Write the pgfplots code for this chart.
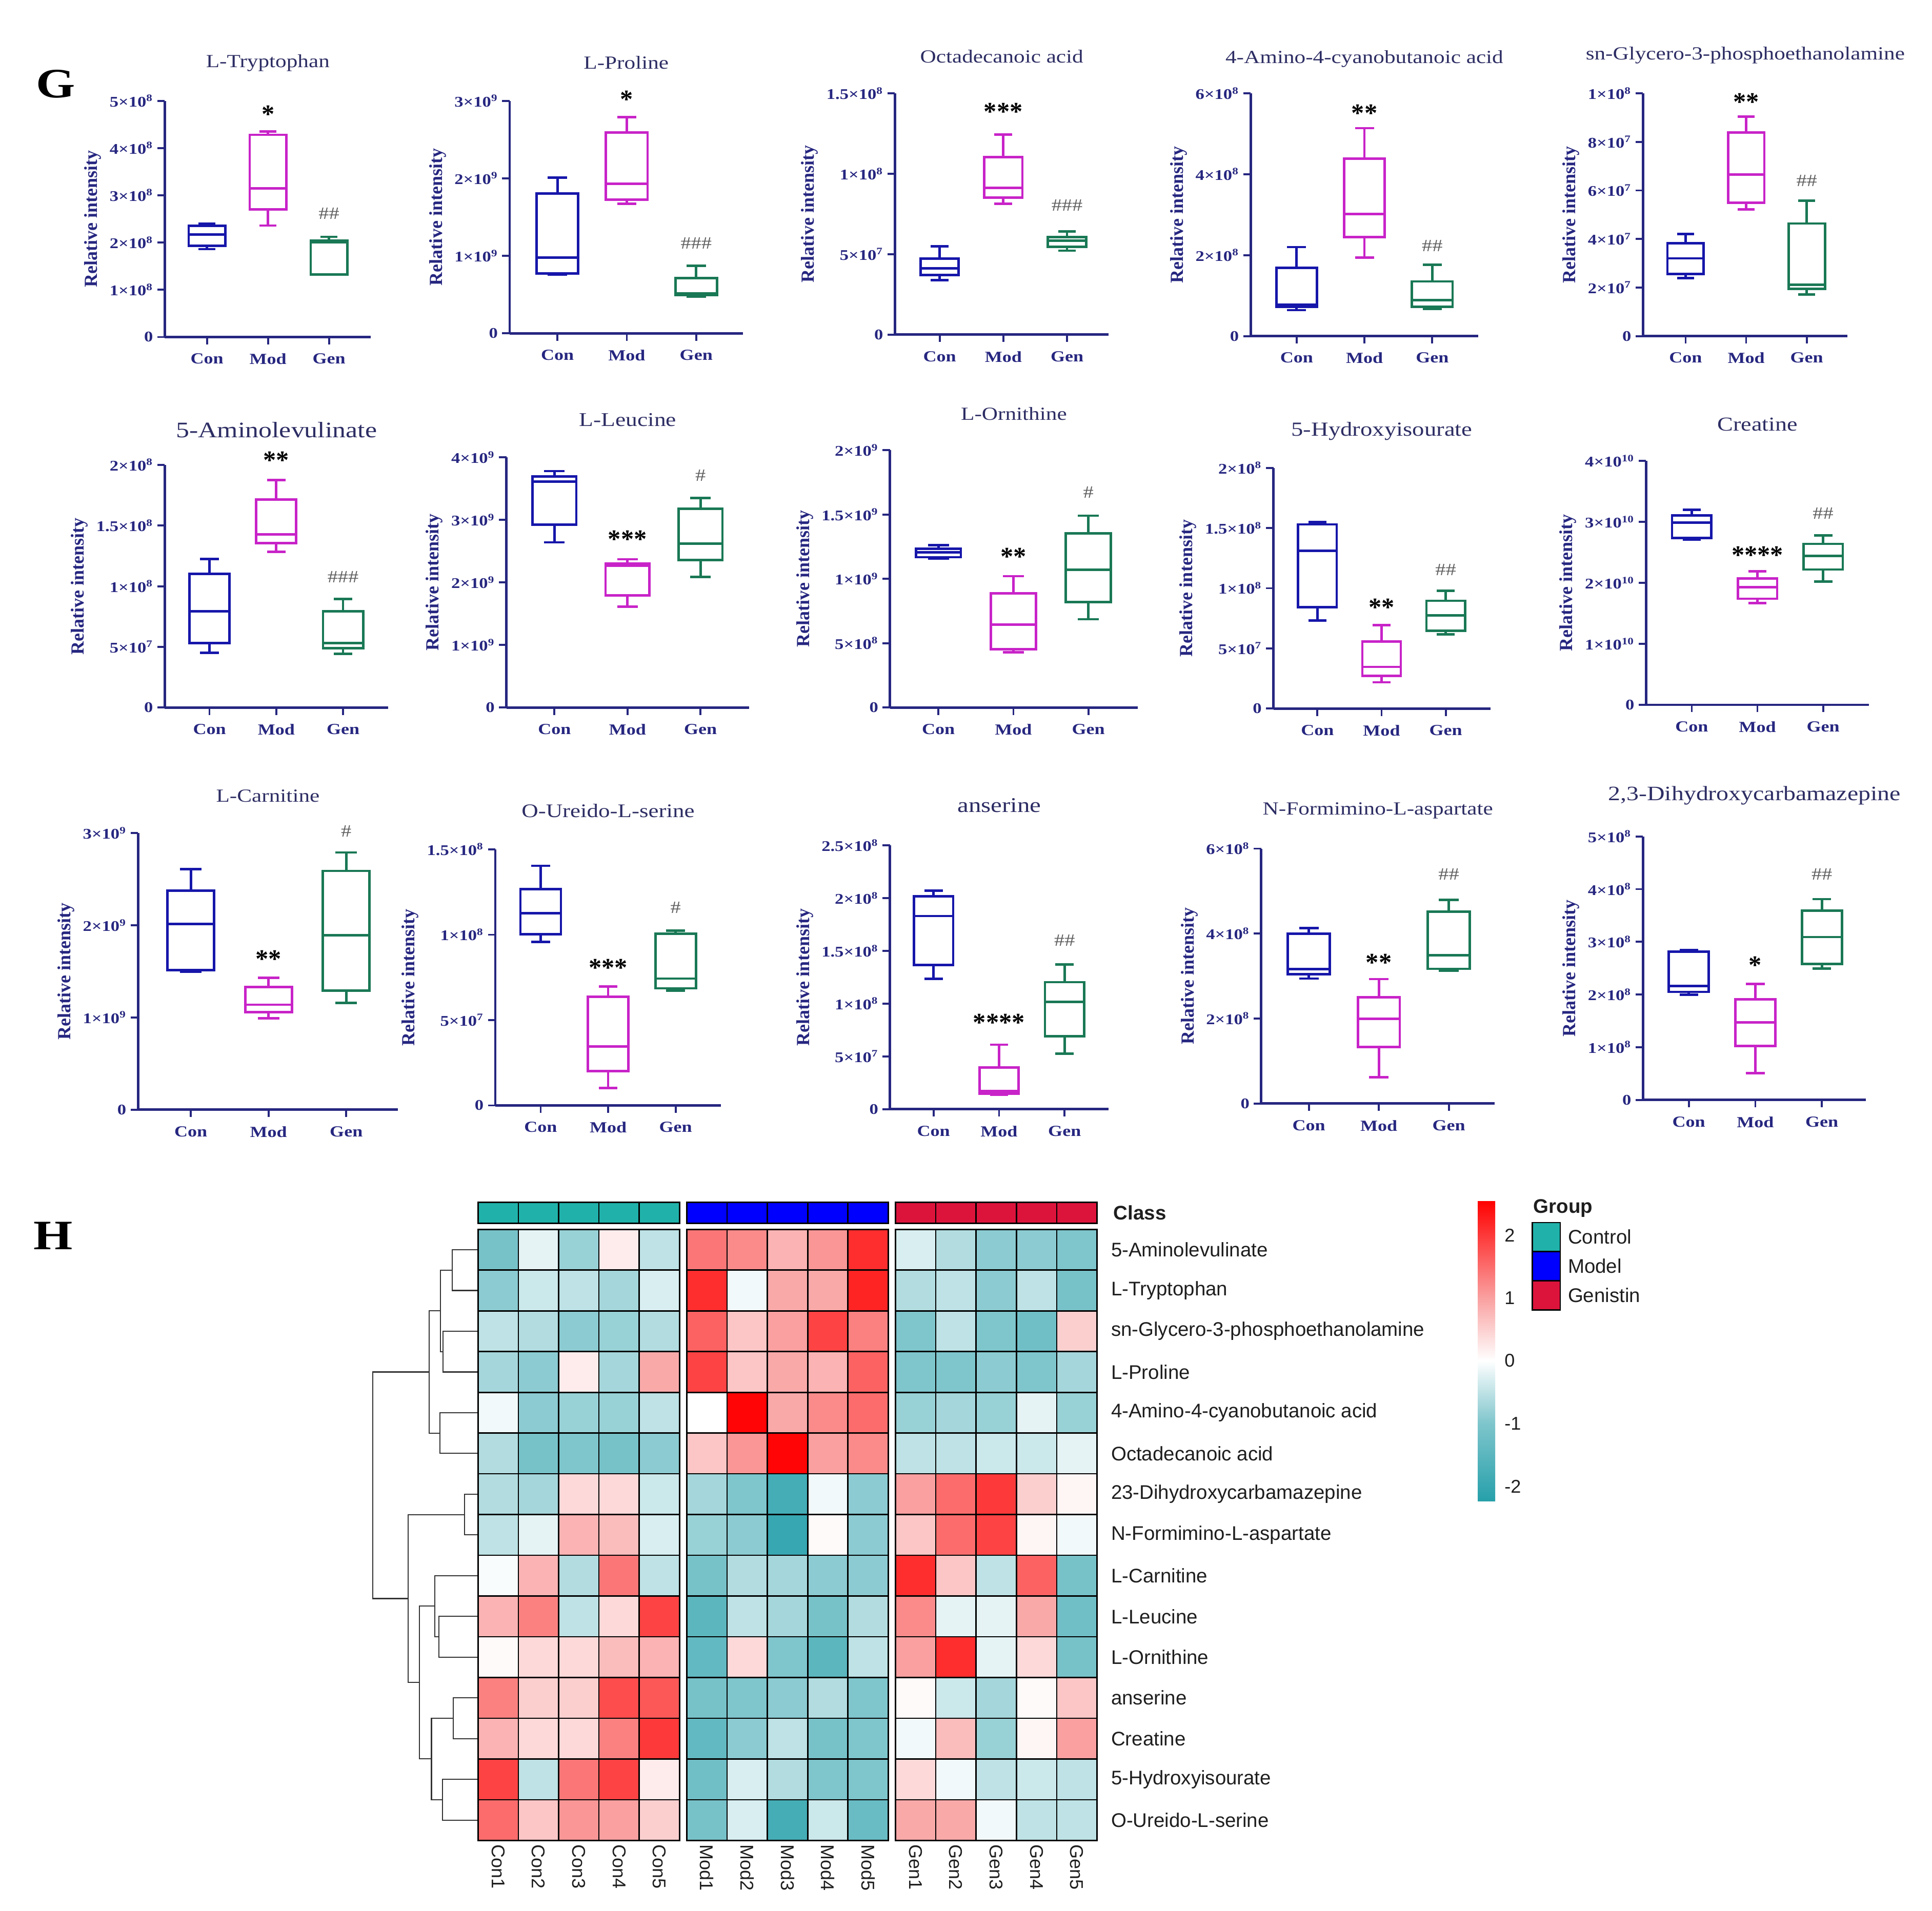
\documentclass[border=0pt]{standalone}
\usepackage{fontspec}
\setmainfont{Liberation Serif}
\setsansfont{Liberation Sans}
\usepackage{graphicx}
\usepackage{pgfplots}
\pgfplotsset{compat=1.18}
\usepgfplotslibrary{statistics}

\definecolor{navy}{RGB}{38,38,128}
\definecolor{titlec}{RGB}{45,45,100}
\definecolor{conc}{RGB}{22,22,170}
\definecolor{modc}{RGB}{200,35,200}
\definecolor{genc}{RGB}{25,120,85}
\definecolor{hashc}{RGB}{95,95,95}
\definecolor{ctrl}{RGB}{32,178,170}
\definecolor{modl}{RGB}{0,0,255}
\definecolor{gens}{RGB}{220,20,60}
\definecolor{hmtext}{RGB}{30,30,30}

\newcommand{\hx}[1]{\scalebox{1.2}[1]{#1}}
\newcommand{\sci}[2]{\hx{#1×10\textsuperscript{#2}}}
% one box: style, position, lower whisker, lower quartile, median, upper quartile, upper whisker
\newcommand{\bx}[7]{\addplot[#1, boxplot prepared={draw position=#2, lower whisker=#3,
  lower quartile=#4, median=#5, upper quartile=#6, upper whisker=#7}] coordinates {};}
\newcommand{\st}[2]{\node[font=\bfseries\fontsize{21}{21}\selectfont, yshift=-4pt] at (axis cs:2,#1) {#2};}
\newcommand{\hs}[2]{\node[font=\fontsize{14}{14}\selectfont, text=hashc] at (axis cs:3,#1) {\hx{#2}};}

\pgfplotsset{
  bp/.style={
    scale only axis, clip=false, anchor=south west,
    axis lines*=left,
    axis line style={line width=2pt, draw=navy},
    tick style={line width=1.6pt, draw=navy},
    tick align=outside, major tick length=6pt,
    xtick={1,2,3}, xticklabels={\hx{Con},\hx{Mod},\hx{Gen}},
    xticklabel style={font=\bfseries\fontsize{12.5}{12.5}\selectfont, text=navy, yshift=-4pt},
    yticklabel style={font=\bfseries\fontsize{12}{12}\selectfont, text=navy},
    ylabel={Relative intensity},
    ylabel style={font=\bfseries\fontsize{15}{15}\selectfont, text=navy},
    title style={font=\fontsize{15}{15}\selectfont, text=titlec, at={(0.5,1)}, anchor=center},
    ymin=0,
    boxplot/draw direction=y,
    boxplot/box extend=0.6,
    boxplot/whisker extend=0.28,
  },
  con/.style={draw=conc, line width=2pt},
  mod/.style={draw=modc, line width=2pt},
  gen/.style={draw=genc, line width=2pt},
  dendro/.style={draw=black!80, line width=0.9pt, mark=none},
}

\begin{document}
\begin{tikzpicture}
\useasboundingbox (0,0) rectangle (1568pt,-1551pt);

\node[font=\bfseries\fontsize{34}{34}\selectfont] at (45pt,-68pt) {\hx{G}};
\node[font=\bfseries\fontsize{34}{34}\selectfont] at (43pt,-1003pt) {\hx{H}};

% ---------------- row 1 ----------------
\begin{axis}[bp, at={(133.7pt,-273.6pt)}, width=167.3pt, height=191.8pt, xmin=0.307, xmax=3.687, ymax=5,
  ytick={0,1,2,3,4,5}, yticklabels={\hx{0},\sci{1}{8},\sci{2}{8},\sci{3}{8},\sci{4}{8},\sci{5}{8}},
  title={\hx{L-Tryptophan}}, title style={yshift=24.8pt}]
\bx{con}{1}{1.86}{1.93}{2.17}{2.35}{2.40}
\bx{mod}{2}{2.36}{2.70}{3.15}{4.28}{4.35}
\bx{gen}{3}{1.32}{1.32}{2.01}{2.04}{2.12}
\st{4.82}{*}
\hs{2.61}{\#\#}
\end{axis}

\begin{axis}[bp, at={(413.6pt,-270.6pt)}, width=189.2pt, height=188.8pt, xmin=0.311, xmax=3.671, ymax=3,
  ytick={0,1,2,3}, yticklabels={\hx{0},\sci{1}{9},\sci{2}{9},\sci{3}{9}},
  title={\hx{L-Proline}}, title style={yshift=24.8pt}]
\bx{con}{1}{0.76}{0.773}{0.979}{1.806}{2.01}
\bx{mod}{2}{1.67}{1.726}{1.93}{2.59}{2.79}
\bx{gen}{3}{0.472}{0.497}{0.513}{0.713}{0.871}
\st{3.08}{*}
\hs{1.16}{\#\#\#}
\end{axis}

\begin{axis}[bp, at={(726.3pt,-271.6pt)}, width=173.4pt, height=195.8pt, xmin=0.298, xmax=3.652, ymax=15,
  ytick={0,5,10,15}, yticklabels={\hx{0},\sci{5}{7},\sci{1}{8},\sci{1.5}{8}},
  title={\hx{Octadecanoic acid}}, title style={yshift=23.8pt}]
\bx{con}{1}{3.39}{3.70}{4.11}{4.73}{5.48}
\bx{mod}{2}{8.13}{8.51}{9.12}{11.03}{12.43}
\bx{gen}{3}{5.22}{5.45}{5.83}{6.06}{6.42}
\st{14.16}{***}
\hs{8.05}{\#\#\#}
\end{axis}

\begin{axis}[bp, at={(1015pt,-272.8pt)}, width=184.6pt, height=197pt, xmin=0.322, xmax=3.676, ymax=6,
  ytick={0,2,4,6}, yticklabels={\hx{0},\sci{2}{8},\sci{4}{8},\sci{6}{8}},
  title={\hx{4-Amino-4-cyanobutanoic acid}}, title style={yshift=21.8pt}]
\bx{con}{1}{0.64}{0.72}{0.78}{1.69}{2.20}
\bx{mod}{2}{1.94}{2.45}{3.02}{4.39}{5.14}
\bx{gen}{3}{0.67}{0.72}{0.89}{1.35}{1.76}
\st{5.63}{**}
\hs{2.23}{\#\#}
\end{axis}

\begin{axis}[bp, at={(1333.4pt,-272.8pt)}, width=166.1pt, height=197pt, xmin=0.296, xmax=3.675, ymax=10,
  ytick={0,2,4,6,8,10}, yticklabels={\hx{0},\sci{2}{7},\sci{4}{7},\sci{6}{7},\sci{8}{7},\sci{1}{8}},
  title={\hx{sn-Glycero-3-phosphoethanolamine}}, title style={yshift=24.8pt}]
\bx{con}{1}{2.39}{2.56}{3.20}{3.83}{4.21}
\bx{mod}{2}{5.22}{5.50}{6.66}{8.38}{9.04}
\bx{gen}{3}{1.72}{1.95}{2.11}{4.64}{5.57}
\st{9.85}{**}
\hs{6.41}{\#\#}
\end{axis}

% ---------------- row 2 ----------------
\begin{axis}[bp, at={(133.7pt,-574.4pt)}, width=181.3pt, height=197pt, xmin=0.330, xmax=3.675, ymax=20,
  ytick={0,5,10,15,20}, yticklabels={\hx{0},\sci{5}{7},\sci{1}{8},\sci{1.5}{8},\sci{2}{8}},
  title={\hx{5-Aminolevulinate}}, title style={yshift=22.4pt, font=\fontsize{18}{18}\selectfont}]
\bx{con}{1}{4.51}{5.31}{7.94}{11.01}{12.24}
\bx{mod}{2}{12.83}{13.54}{14.26}{17.13}{18.75}
\bx{gen}{3}{4.44}{4.91}{5.31}{7.94}{8.95}
\st{20.77}{**}
\hs{10.77}{\#\#\#}
\end{axis}

\begin{axis}[bp, at={(411pt,-574.4pt)}, width=196.8pt, height=203.2pt, xmin=0.342, xmax=3.663, ymax=4,
  ytick={0,1,2,3,4}, yticklabels={\hx{0},\sci{1}{9},\sci{2}{9},\sci{3}{9},\sci{4}{9}},
  title={\hx{L-Leucine}}, title style={yshift=24.2pt, font=\fontsize{15.8}{15.8}\selectfont}]
\bx{con}{1}{2.64}{2.92}{3.61}{3.69}{3.78}
\bx{mod}{2}{1.61}{1.79}{2.27}{2.30}{2.37}
\bx{gen}{3}{2.09}{2.36}{2.62}{3.18}{3.35}
\st{2.77}{***}
\hs{3.71}{\#}
\end{axis}

\begin{axis}[bp, at={(722.3pt,-574.4pt)}, width=201.1pt, height=209pt, xmin=0.354, xmax=3.659, ymax=2,
  ytick={0,0.5,1,1.5,2}, yticklabels={\hx{0},\sci{5}{8},\sci{1}{9},\sci{1.5}{9},\sci{2}{9}},
  title={\hx{L-Ornithine}}, title style={yshift=23.4pt}]
\bx{con}{1}{1.158}{1.168}{1.206}{1.234}{1.263}
\bx{mod}{2}{0.430}{0.453}{0.644}{0.888}{1.021}
\bx{gen}{3}{0.686}{0.819}{1.072}{1.352}{1.491}
\st{1.21}{**}
\hs{1.67}{\#}
\end{axis}

\begin{axis}[bp, at={(1033.5pt,-575.2pt)}, width=176pt, height=195.4pt, xmin=0.314, xmax=3.695, ymax=20,
  ytick={0,5,10,15,20}, yticklabels={\hx{0},\sci{5}{7},\sci{1}{8},\sci{1.5}{8},\sci{2}{8}},
  title={\hx{5-Hydroxyisourate}}, title style={yshift=23.9pt, font=\fontsize{16.2}{16.2}\selectfont}]
\bx{con}{1}{7.33}{8.43}{13.12}{15.3}{15.5}
\bx{mod}{2}{2.18}{2.73}{3.46}{5.58}{6.92}
\bx{gen}{3}{6.15}{6.46}{7.74}{8.96}{9.78}
\st{8.80}{**}
\hs{11.55}{\#\#}
\end{axis}

\begin{axis}[bp, at={(1335.9pt,-572.2pt)}, width=180.9pt, height=198pt, xmin=0.304, xmax=3.698, ymax=4,
  ytick={0,1,2,3,4}, yticklabels={\hx{0},\sci{1}{10},\sci{2}{10},\sci{3}{10},\sci{4}{10}},
  title={\hx{Creatine}}, title style={yshift=23.7pt, font=\fontsize{16}{16}\selectfont}]
\bx{con}{1}{2.71}{2.74}{2.99}{3.11}{3.20}
\bx{mod}{2}{1.67}{1.74}{1.93}{2.07}{2.19}
\bx{gen}{3}{2.02}{2.22}{2.44}{2.64}{2.78}
\st{2.54}{****}
\hs{3.14}{\#\#}
\end{axis}

% ---------------- row 3 ----------------
\begin{axis}[bp, at={(112pt,-900.8pt)}, width=210.8pt, height=224.5pt, xmin=0.320, xmax=3.663, ymax=3,
  ytick={0,1,2,3}, yticklabels={\hx{0},\sci{1}{9},\sci{2}{9},\sci{3}{9}},
  title={\hx{L-Carnitine}}, title style={yshift=24.3pt}]
\bx{con}{1}{1.495}{1.516}{2.016}{2.375}{2.61}
\bx{mod}{2}{0.989}{1.059}{1.138}{1.33}{1.431}
\bx{gen}{3}{1.157}{1.29}{1.89}{2.59}{2.79}
\st{1.69}{**}
\hs{3.02}{\#}
\end{axis}

\begin{axis}[bp, at={(402pt,-897.4pt)}, width=183pt, height=207.9pt, xmin=0.328, xmax=3.670, ymax=15,
  ytick={0,5,10,15}, yticklabels={\hx{0},\sci{5}{7},\sci{1}{8},\sci{1.5}{8}},
  title={\hx{O-Ureido-L-serine}}, title style={yshift=25.5pt, font=\fontsize{15.6}{15.6}\selectfont}]
\bx{con}{1}{9.59}{10.02}{11.27}{12.67}{14.04}
\bx{mod}{2}{1.02}{2.02}{3.46}{6.36}{6.96}
\bx{gen}{3}{6.72}{6.86}{7.43}{10.06}{10.23}
\st{8.37}{***}
\hs{11.6}{\#}
\end{axis}

\begin{axis}[bp, at={(722.3pt,-900.4pt)}, width=177.4pt, height=214.1pt, xmin=0.336, xmax=3.671, ymax=25,
  ytick={0,5,10,15,20,25}, yticklabels={\hx{0},\sci{5}{7},\sci{1}{8},\sci{1.5}{8},\sci{2}{8},\sci{2.5}{8}},
  title={\hx{anserine}}, title style={yshift=26.3pt, font=\fontsize{17}{17}\selectfont}]
\bx{con}{1}{12.34}{13.66}{18.31}{20.17}{20.70}
\bx{mod}{2}{1.35}{1.46}{1.70}{3.95}{6.11}
\bx{gen}{3}{5.25}{6.92}{10.18}{12.04}{13.71}
\st{8.67}{****}
\hs{15.99}{\#\#}
\end{axis}

\begin{axis}[bp, at={(1023.6pt,-895.8pt)}, width=189.3pt, height=206.9pt, xmin=0.320, xmax=3.653, ymax=6,
  ytick={0,2,4,6}, yticklabels={\hx{0},\sci{2}{8},\sci{4}{8},\sci{6}{8}},
  title={\hx{N-Formimino-L-aspartate}}, title style={yshift=24.9pt}]
\bx{con}{1}{2.94}{3.04}{3.16}{4.00}{4.13}
\bx{mod}{2}{0.62}{1.33}{1.99}{2.50}{2.93}
\bx{gen}{3}{3.13}{3.17}{3.49}{4.52}{4.79}
\st{3.43}{**}
\hs{5.40}{\#\#}
\end{axis}

\begin{axis}[bp, at={(1333.4pt,-892.9pt)}, width=180.9pt, height=213.9pt, xmin=0.311, xmax=3.661, ymax=5,
  ytick={0,1,2,3,4,5}, yticklabels={\hx{0},\sci{1}{8},\sci{2}{8},\sci{3}{8},\sci{4}{8},\sci{5}{8}},
  title={\hx{2,3-Dihydroxycarbamazepine}}, title style={yshift=27pt, font=\fontsize{16.6}{16.6}\selectfont}]
\bx{con}{1}{2.0}{2.05}{2.16}{2.81}{2.84}
\bx{mod}{2}{0.51}{1.02}{1.47}{1.91}{2.20}
\bx{gen}{3}{2.49}{2.58}{3.09}{3.59}{3.81}
\st{2.65}{*}
\hs{4.28}{\#\#}
\end{axis}

% ---------------- H: dendrogram ----------------
\begin{axis}[at={(302pt,-998pt)}, anchor=north west, scale only axis, width=86pt, height=496.05pt,
  xmin=302, xmax=388, ymin=0.5, ymax=15.5, hide axis, clip=false]
\addplot[dendro] coordinates {(388,15) (367,15) (367,14) (388,14)};
\addplot[dendro] coordinates {(388,13) (359.5,13) (359.5,12) (388,12)};
\addplot[dendro] coordinates {(367,14.5) (357.5,14.5) (357.5,12.5) (359.5,12.5)};
\addplot[dendro] coordinates {(388,11) (357,11) (357,10) (388,10)};
\addplot[dendro] coordinates {(357.5,13.5) (348.2,13.5) (348.2,10.5) (357,10.5)};
\addplot[dendro] coordinates {(388,9) (376.9,9) (376.9,8) (388,8)};
\addplot[dendro] coordinates {(388,6) (356.2,6) (356.2,5) (388,5)};
\addplot[dendro] coordinates {(388,7) (353,7) (353,5.5) (356.2,5.5)};
\addplot[dendro] coordinates {(388,4) (367.8,4) (367.8,3) (388,3)};
\addplot[dendro] coordinates {(388,2) (359,2) (359,1) (388,1)};
\addplot[dendro] coordinates {(367.8,3.5) (350.2,3.5) (350.2,1.5) (359,1.5)};
\addplot[dendro] coordinates {(353,6.25) (340.3,6.25) (340.3,2.5) (350.2,2.5)};
\addplot[dendro] coordinates {(376.9,8.5) (331.1,8.5) (331.1,4.375) (340.3,4.375)};
\addplot[dendro] coordinates {(348.2,12) (302.4,12) (302.4,6.4375) (331.1,6.4375)};
\end{axis}

% ---------------- H: class bar ----------------
\begin{axis}[at={(388pt,-976pt)}, anchor=north west, x=32.7pt, y=17pt,
  xmin=0, xmax=15.36, ymin=0, ymax=1, hide axis, clip=false]
\addplot[only marks, mark=square*, mark size=16.35pt, draw=black, fill=ctrl,
  mark options={yscale=0.52, line width=1.1pt, draw=black, fill=ctrl}]
  coordinates {(0.5,0.5) (1.5,0.5) (2.5,0.5) (3.5,0.5) (4.5,0.5)};
\addplot[only marks, mark=square*, mark size=16.35pt, draw=black, fill=modl,
  mark options={yscale=0.52, line width=1.1pt, draw=black, fill=modl}]
  coordinates {(5.68,0.5) (6.68,0.5) (7.68,0.5) (8.68,0.5) (9.68,0.5)};
\addplot[only marks, mark=square*, mark size=16.35pt, draw=black, fill=gens,
  mark options={yscale=0.52, line width=1.1pt, draw=black, fill=gens}]
  coordinates {(10.86,0.5) (11.86,0.5) (12.86,0.5) (13.86,0.5) (14.86,0.5)};
\node[anchor=west, font=\sffamily\bfseries\fontsize{16}{16}\selectfont, text=hmtext] at (axis cs:15.36,0.5) [xshift=10pt] {Class};
\end{axis}

% ---------------- H: heatmap ----------------
\begin{axis}[at={(388pt,-998pt)}, anchor=north west,
  x=32.7pt, y=33.07pt, xmin=0, xmax=15.36, ymin=0.5, ymax=15.5,
  axis line style={draw=none}, tick style={draw=none}, major tick length=0pt, clip=false,
  xtick={0.5,1.5,2.5,3.5,4.5,5.68,6.68,7.68,8.68,9.68,10.86,11.86,12.86,13.86,14.86},
  xticklabels={Con1,Con2,Con3,Con4,Con5,Mod1,Mod2,Mod3,Mod4,Mod5,Gen1,Gen2,Gen3,Gen4,Gen5},
  xticklabel style={rotate=-90, anchor=west, font=\sffamily\fontsize{15}{15}\selectfont, text=hmtext},
  ytick={1,...,15}, yticklabel pos=right,
  yticklabels={O-Ureido-L-serine,5-Hydroxyisourate,Creatine,anserine,L-Ornithine,L-Leucine,L-Carnitine,
    N-Formimino-L-aspartate,23-Dihydroxycarbamazepine,Octadecanoic acid,4-Amino-4-cyanobutanoic acid,
    L-Proline,sn-Glycero-3-phosphoethanolamine,L-Tryptophan,5-Aminolevulinate},
  yticklabel style={anchor=west, xshift=8pt, font=\sffamily\fontsize{16}{16}\selectfont, text=hmtext},
  colormap={hm}{rgb255(0)=(38,160,170) rgb255(1.24)=(126,197,204) rgb255(2.24)=(255,255,255)
    rgb255(3.24)=(250,160,160) rgb255(4.79)=(255,0,0)},
  point meta min=-2.24, point meta max=2.55,
  colorbar,
  colorbar style={at={(parent axis.north east)}, anchor=north west, xshift=300.5pt, yshift=23.4pt,
    scale only axis, width=16.2pt, height=244.2pt,
    axis line style={draw=none}, tick style={draw=none}, major tick length=0pt,
    ytick={-2,-1,0,1,2}, yticklabels={-2,-1,0,1,2}, yticklabel pos=right,
    yticklabel style={font=\sffamily\fontsize{15}{15}\selectfont, text=hmtext, xshift=2pt}},
]
% Control
\addplot[scatter, only marks, mark=square*, mark size=16.35pt,
    scatter/use mapped color={draw=black, fill=mapped color},
    mark options={yscale=1.011, line width=1.1pt}]
  table[row sep=\\, point meta=\thisrow{z}] {x y z\\
0.5 15 -1.1\\ 1.5 15 -0.2\\ 2.5 15 -0.8\\ 3.5 15 0.2\\ 4.5 15 -0.5\\
0.5 14 -0.9\\ 1.5 14 -0.4\\ 2.5 14 -0.5\\ 3.5 14 -0.7\\ 4.5 14 -0.3\\
0.5 13 -0.5\\ 1.5 13 -0.6\\ 2.5 13 -0.9\\ 3.5 13 -0.8\\ 4.5 13 -0.6\\
0.5 12 -0.7\\ 1.5 12 -0.9\\ 2.5 12 0.2\\ 3.5 12 -0.7\\ 4.5 12 0.9\\
0.5 11 -0.1\\ 1.5 11 -0.9\\ 2.5 11 -0.8\\ 3.5 11 -0.8\\ 4.5 11 -0.5\\
0.5 10 -0.6\\ 1.5 10 -1.1\\ 2.5 10 -1.0\\ 3.5 10 -1.1\\ 4.5 10 -0.9\\
0.5 9 -0.6\\ 1.5 9 -0.7\\ 2.5 9 0.4\\ 3.5 9 0.4\\ 4.5 9 -0.4\\
0.5 8 -0.5\\ 1.5 8 -0.2\\ 2.5 8 0.8\\ 3.5 8 0.7\\ 4.5 8 -0.3\\
0.5 7 -0.05\\ 1.5 7 0.8\\ 2.5 7 -0.6\\ 3.5 7 1.4\\ 4.5 7 -0.5\\
0.5 6 0.8\\ 1.5 6 1.3\\ 2.5 6 -0.5\\ 3.5 6 0.4\\ 4.5 6 1.9\\
0.5 5 0.05\\ 1.5 5 0.4\\ 2.5 5 0.4\\ 3.5 5 0.7\\ 4.5 5 0.8\\
0.5 4 1.3\\ 1.5 4 0.5\\ 2.5 4 0.5\\ 3.5 4 1.8\\ 4.5 4 1.7\\
0.5 3 0.8\\ 1.5 3 0.4\\ 2.5 3 0.4\\ 3.5 3 1.3\\ 4.5 3 2.0\\
0.5 2 1.9\\ 1.5 2 -0.5\\ 2.5 2 1.4\\ 3.5 2 1.9\\ 4.5 2 0.2\\
0.5 1 1.5\\ 1.5 1 0.6\\ 2.5 1 1.1\\ 3.5 1 1.0\\ 4.5 1 0.5\\
};
% Model
\addplot[scatter, only marks, mark=square*, mark size=16.35pt,
    scatter/use mapped color={draw=black, fill=mapped color},
    mark options={yscale=1.011, line width=1.1pt}]
  table[row sep=\\, point meta=\thisrow{z}] {x y z\\
5.68 15 1.4\\ 6.68 15 1.2\\ 7.68 15 0.8\\ 8.68 15 1.1\\ 9.68 15 2.1\\
5.68 14 2.1\\ 6.68 14 -0.1\\ 7.68 14 0.9\\ 8.68 14 0.9\\ 9.68 14 2.2\\
5.68 13 1.6\\ 6.68 13 0.6\\ 7.68 13 1.0\\ 8.68 13 1.9\\ 9.68 13 1.3\\
5.68 12 1.9\\ 6.68 12 0.6\\ 7.68 12 0.9\\ 8.68 12 0.8\\ 9.68 12 1.6\\
5.68 11 0.0\\ 6.68 11 2.5\\ 7.68 11 0.9\\ 8.68 11 1.2\\ 9.68 11 1.5\\
5.68 10 0.6\\ 6.68 10 1.1\\ 7.68 10 2.5\\ 8.68 10 1.0\\ 9.68 10 1.2\\
5.68 9 -0.7\\ 6.68 9 -1.0\\ 7.68 9 -1.8\\ 8.68 9 -0.1\\ 9.68 9 -0.9\\
5.68 8 -0.8\\ 6.68 8 -0.9\\ 7.68 8 -2.0\\ 8.68 8 0.05\\ 9.68 8 -0.9\\
5.68 7 -1.1\\ 6.68 7 -0.6\\ 7.68 7 -0.7\\ 8.68 7 -0.9\\ 9.68 7 -0.9\\
5.68 6 -1.5\\ 6.68 6 -0.5\\ 7.68 6 -0.7\\ 8.68 6 -1.1\\ 9.68 6 -0.6\\
5.68 5 -1.4\\ 6.68 5 0.4\\ 7.68 5 -1.0\\ 8.68 5 -1.5\\ 9.68 5 -0.5\\
5.68 4 -1.1\\ 6.68 4 -1.0\\ 7.68 4 -0.9\\ 8.68 4 -0.6\\ 9.68 4 -1.0\\
5.68 3 -1.4\\ 6.68 3 -0.9\\ 7.68 3 -0.5\\ 8.68 3 -1.1\\ 9.68 3 -1.0\\
5.68 2 -1.2\\ 6.68 2 -0.3\\ 7.68 2 -0.6\\ 8.68 2 -1.0\\ 9.68 2 -1.0\\
5.68 1 -1.1\\ 6.68 1 -0.3\\ 7.68 1 -1.8\\ 8.68 1 -0.4\\ 9.68 1 -1.3\\
};
% Genistin
\addplot[scatter, only marks, mark=square*, mark size=16.35pt,
    scatter/use mapped color={draw=black, fill=mapped color},
    mark options={yscale=1.011, line width=1.1pt}]
  table[row sep=\\, point meta=\thisrow{z}] {x y z\\
10.86 15 -0.3\\ 11.86 15 -0.6\\ 12.86 15 -0.9\\ 13.86 15 -0.9\\ 14.86 15 -1.0\\
10.86 14 -0.6\\ 11.86 14 -0.5\\ 12.86 14 -0.9\\ 13.86 14 -0.5\\ 14.86 14 -1.1\\
10.86 13 -1.0\\ 11.86 13 -0.5\\ 12.86 13 -1.0\\ 13.86 13 -1.2\\ 14.86 13 0.5\\
10.86 12 -1.0\\ 11.86 12 -1.0\\ 12.86 12 -0.9\\ 13.86 12 -1.0\\ 14.86 12 -0.7\\
10.86 11 -0.8\\ 11.86 11 -0.7\\ 12.86 11 -0.8\\ 13.86 11 -0.2\\ 14.86 11 -0.8\\
10.86 10 -0.5\\ 11.86 10 -0.5\\ 12.86 10 -0.4\\ 13.86 10 -0.4\\ 14.86 10 -0.2\\
10.86 9 1.0\\ 11.86 9 1.5\\ 12.86 9 2.0\\ 13.86 9 0.5\\ 14.86 9 0.1\\
10.86 8 0.6\\ 11.86 8 1.5\\ 12.86 8 1.9\\ 13.86 8 0.1\\ 14.86 8 -0.1\\
10.86 7 2.1\\ 11.86 7 0.6\\ 12.86 7 -0.5\\ 13.86 7 1.6\\ 14.86 7 -1.1\\
10.86 6 1.2\\ 11.86 6 -0.2\\ 12.86 6 -0.2\\ 13.86 6 0.9\\ 14.86 6 -1.2\\
10.86 5 1.0\\ 11.86 5 2.1\\ 12.86 5 -0.2\\ 13.86 5 0.4\\ 14.86 5 -1.1\\
10.86 4 0.05\\ 11.86 4 -0.4\\ 12.86 4 -0.7\\ 13.86 4 0.05\\ 14.86 4 0.6\\
10.86 3 -0.1\\ 11.86 3 0.7\\ 12.86 3 -0.8\\ 13.86 3 0.1\\ 14.86 3 1.0\\
10.86 2 0.4\\ 11.86 2 -0.1\\ 12.86 2 -0.5\\ 13.86 2 -0.4\\ 14.86 2 -0.5\\
10.86 1 0.9\\ 11.86 1 0.9\\ 12.86 1 -0.1\\ 13.86 1 -0.5\\ 14.86 1 -0.5\\
};
\end{axis}

% group legend
\node[anchor=west, font=\sffamily\bfseries\fontsize{16}{16}\selectfont, text=hmtext] at (1241pt,-981pt) {Group};
\draw[fill=ctrl, line width=0.9pt] (1243.6pt,-992.3pt) rectangle (1266.2pt,-1016pt);
\draw[fill=modl, line width=0.9pt] (1243.6pt,-1016pt) rectangle (1266.2pt,-1039.7pt);
\draw[fill=gens, line width=0.9pt] (1243.6pt,-1039.7pt) rectangle (1266.2pt,-1063.4pt);
\node[anchor=west, font=\sffamily\fontsize{16}{16}\selectfont, text=hmtext] at (1269pt,-1004pt) {Control};
\node[anchor=west, font=\sffamily\fontsize{16}{16}\selectfont, text=hmtext] at (1269pt,-1027.8pt) {Model};
\node[anchor=west, font=\sffamily\fontsize{16}{16}\selectfont, text=hmtext] at (1269pt,-1051.5pt) {Genistin};
\end{tikzpicture}
\end{document}
